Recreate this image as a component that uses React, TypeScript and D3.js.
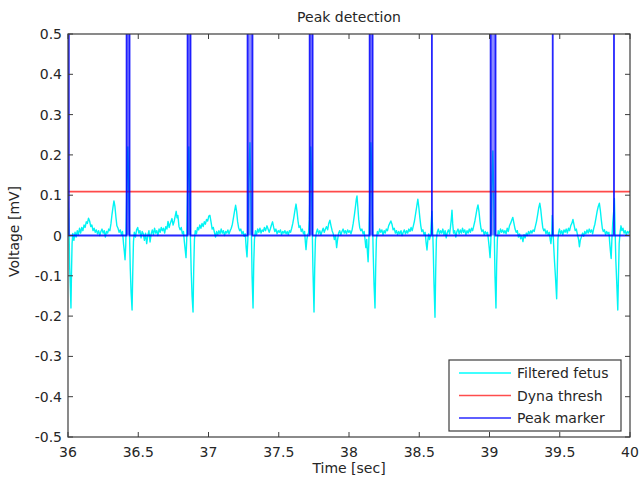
import React, { useEffect, useRef } from "react";
import * as d3 from "d3";

// filtered fetal ECG, [time (s), voltage (mV)]
const filteredFetus: [number, number][] = [
  [36.000, 0.085], [36.004, 0.06], [36.008, 0.0], [36.012, -0.08], [36.016, -0.12], [36.021, -0.18], [36.025, -0.09], [36.029, -0.02],
  [36.034, 0.005], [36.042, -0.012], [36.050, 0.008], [36.058, -0.004], [36.066, 0.012], [36.074, 0.002], [36.082, 0.018], [36.090, 0.006],
  [36.098, 0.02], [36.106, 0.012], [36.114, 0.026], [36.122, 0.02], [36.130, 0.034], [36.138, 0.03], [36.146, 0.043], [36.154, 0.036],
  [36.162, 0.022], [36.170, 0.026], [36.178, 0.012], [36.186, 0.018], [36.194, 0.008], [36.202, 0.014], [36.210, 0.004], [36.218, 0.012],
  [36.226, 0.0], [36.234, 0.01], [36.242, 0.016], [36.250, 0.006], [36.258, 0.012], [36.266, -0.004], [36.274, 0.01], [36.282, 0.006],
  [36.290, 0.016], [36.298, 0.012], [36.306, 0.03], [36.313, 0.052], [36.320, 0.07], [36.327, 0.086], [36.334, 0.072], [36.341, 0.046],
  [36.348, 0.024], [36.356, 0.018], [36.364, 0.008], [36.372, 0.014], [36.380, 0.002], [36.388, 0.01], [36.395, -0.02], [36.401, -0.04],
  [36.406, -0.06], [36.411, -0.025], [36.416, 0.06], [36.421, 0.16], [36.426, 0.22], [36.431, 0.14], [36.437, 0.02], [36.443, -0.08],
  [36.449, -0.14], [36.456, -0.185], [36.461, -0.09], [36.466, -0.015],
  [36.472, 0.008], [36.480, -0.004], [36.488, 0.014], [36.496, 0.02], [36.504, 0.006], [36.512, 0.012], [36.520, -0.006], [36.528, 0.01],
  [36.536, 0.004], [36.544, -0.012], [36.552, 0.006], [36.560, -0.02], [36.568, 0.0], [36.576, 0.012], [36.584, -0.016], [36.592, 0.004],
  [36.600, 0.014], [36.608, 0.002], [36.616, 0.018], [36.624, 0.006], [36.632, 0.012], [36.640, 0.0], [36.648, 0.016], [36.656, 0.008],
  [36.664, 0.02], [36.672, 0.012], [36.680, 0.018], [36.688, 0.006], [36.696, 0.022], [36.704, 0.016], [36.712, 0.035], [36.720, 0.02],
  [36.728, 0.03], [36.740, 0.042], [36.748, 0.026], [36.756, 0.036], [36.764, 0.05], [36.770, 0.06], [36.776, 0.044], [36.782, 0.05],
  [36.790, 0.022], [36.798, 0.014], [36.806, 0.02], [36.814, 0.004], [36.822, 0.01], [36.828, -0.015], [36.834, -0.035], [36.840, -0.055],
  [36.845, -0.01], [36.850, 0.08], [36.855, 0.18], [36.860, 0.22], [36.865, 0.12], [36.871, 0.0], [36.877, -0.09], [36.883, -0.15],
  [36.890, -0.19], [36.895, -0.08], [36.900, -0.01],
  [36.906, 0.012], [36.914, 0.004], [36.922, 0.02], [36.930, 0.014], [36.938, 0.026], [36.946, 0.018], [36.954, 0.03], [36.962, 0.022],
  [36.970, 0.034], [36.978, 0.028], [36.986, 0.04], [36.994, 0.036], [37.002, 0.048], [37.010, 0.05], [37.018, 0.034], [37.026, 0.016],
  [37.034, 0.02], [37.042, 0.008], [37.050, -0.004], [37.058, 0.01], [37.066, 0.002], [37.074, 0.012], [37.082, 0.004], [37.090, 0.016],
  [37.098, 0.006], [37.106, 0.012], [37.114, 0.0], [37.122, 0.01], [37.130, 0.006], [37.138, 0.014], [37.146, 0.004], [37.154, 0.012],
  [37.162, 0.018], [37.170, 0.028], [37.178, 0.045], [37.186, 0.062], [37.193, 0.075], [37.200, 0.06], [37.207, 0.035], [37.214, 0.02],
  [37.222, 0.012], [37.230, 0.016], [37.238, 0.004], [37.246, 0.01], [37.254, -0.002], [37.262, 0.004], [37.268, -0.03], [37.274, -0.053],
  [37.280, -0.01], [37.285, 0.09], [37.290, 0.18], [37.295, 0.23], [37.300, 0.14], [37.305, 0.02], [37.310, -0.1], [37.317, -0.18],
  [37.322, -0.07], [37.327, -0.01],
  [37.334, 0.012], [37.342, 0.002], [37.350, 0.016], [37.358, 0.008], [37.366, 0.018], [37.374, 0.006], [37.382, 0.014], [37.390, 0.01],
  [37.398, 0.02], [37.406, 0.012], [37.416, 0.024], [37.424, 0.016], [37.432, 0.008], [37.440, 0.016], [37.448, 0.026], [37.456, 0.034],
  [37.464, 0.02], [37.472, 0.01], [37.480, 0.016], [37.488, 0.004], [37.496, 0.012], [37.504, 0.008], [37.512, 0.014], [37.520, 0.002],
  [37.528, 0.01], [37.536, 0.006], [37.544, 0.012], [37.552, 0.004], [37.560, 0.01], [37.568, 0.002], [37.576, 0.012], [37.584, 0.008],
  [37.592, 0.018], [37.600, 0.03], [37.608, 0.046], [37.616, 0.064], [37.623, 0.078], [37.630, 0.06], [37.637, 0.036], [37.644, 0.02],
  [37.652, 0.024], [37.660, 0.01], [37.668, 0.016], [37.676, 0.004], [37.684, 0.01], [37.689, -0.015], [37.694, -0.035], [37.700, -0.01],
  [37.706, 0.002], [37.712, 0.006], [37.718, 0.04], [37.723, 0.13], [37.728, 0.22], [37.733, 0.15], [37.738, 0.03], [37.743, -0.08],
  [37.751, -0.19], [37.756, -0.08], [37.761, -0.01],
  [37.768, 0.008], [37.776, 0.016], [37.784, 0.004], [37.792, 0.012], [37.800, 0.002], [37.808, 0.01], [37.816, 0.018], [37.824, 0.008],
  [37.832, 0.016], [37.840, 0.022], [37.848, 0.014], [37.856, 0.03], [37.864, 0.038], [37.872, 0.024], [37.880, 0.012], [37.888, 0.004],
  [37.896, -0.01], [37.904, 0.0], [37.912, -0.03], [37.918, -0.012], [37.926, 0.006], [37.934, 0.012], [37.942, 0.002], [37.950, 0.01],
  [37.958, 0.016], [37.966, 0.006], [37.974, 0.012], [37.982, 0.004], [37.990, 0.014], [37.998, 0.008], [38.006, 0.012], [38.014, 0.004],
  [38.022, 0.014], [38.030, 0.03], [38.038, 0.05], [38.046, 0.072], [38.052, 0.09], [38.057, 0.098], [38.063, 0.07], [38.069, 0.04],
  [38.076, 0.02], [38.084, 0.012], [38.092, 0.016], [38.100, 0.004], [38.108, 0.01], [38.114, -0.01], [38.120, -0.03], [38.126, -0.01],
  [38.131, -0.04], [38.136, -0.065], [38.141, -0.02], [38.146, 0.06], [38.151, 0.16], [38.156, 0.23], [38.161, 0.17], [38.166, 0.06],
  [38.172, -0.04], [38.178, -0.12], [38.185, -0.18], [38.190, -0.08], [38.195, -0.01],
  [38.202, 0.01], [38.210, 0.004], [38.218, 0.016], [38.226, 0.008], [38.234, 0.014], [38.242, 0.002], [38.250, 0.012], [38.258, 0.006],
  [38.266, 0.016], [38.274, 0.012], [38.282, 0.024], [38.290, 0.03], [38.298, 0.036], [38.306, 0.028], [38.314, 0.014], [38.322, 0.018],
  [38.330, 0.006], [38.338, 0.012], [38.346, 0.002], [38.354, 0.01], [38.362, 0.004], [38.370, 0.012], [38.378, 0.0], [38.386, 0.008],
  [38.394, 0.014], [38.402, 0.004], [38.410, 0.012], [38.418, 0.006], [38.426, 0.016], [38.434, 0.01], [38.442, 0.02], [38.450, 0.012],
  [38.458, 0.024], [38.466, 0.036], [38.474, 0.054], [38.482, 0.072], [38.490, 0.09], [38.497, 0.07], [38.504, 0.045], [38.511, 0.024],
  [38.518, 0.01], [38.526, 0.014], [38.534, 0.002], [38.542, 0.008], [38.548, -0.015], [38.555, -0.036], [38.561, -0.012], [38.567, 0.004],
  [38.573, -0.01], [38.580, 0.0], [38.585, 0.03], [38.590, 0.06], [38.595, 0.02], [38.600, -0.04], [38.605, -0.12], [38.612, -0.203],
  [38.617, -0.09], [38.622, -0.01],
  [38.628, 0.008], [38.636, 0.016], [38.644, 0.004], [38.652, 0.012], [38.660, 0.006], [38.668, 0.016], [38.676, 0.002], [38.684, 0.012],
  [38.692, -0.006], [38.700, 0.008], [38.708, 0.014], [38.716, 0.004], [38.722, 0.02], [38.728, 0.04], [38.733, 0.063], [38.738, 0.03],
  [38.744, 0.006], [38.752, 0.012], [38.760, -0.004], [38.768, 0.01], [38.776, 0.016], [38.784, 0.004], [38.792, 0.014], [38.800, 0.006],
  [38.808, 0.018], [38.816, 0.008], [38.824, 0.014], [38.832, 0.002], [38.840, 0.012], [38.848, 0.006], [38.856, 0.016], [38.864, 0.008],
  [38.872, 0.018], [38.880, 0.012], [38.888, 0.024], [38.896, 0.036], [38.904, 0.052], [38.911, 0.066], [38.918, 0.076], [38.925, 0.06],
  [38.932, 0.036], [38.939, 0.018], [38.946, 0.01], [38.954, 0.014], [38.962, 0.002], [38.970, 0.01], [38.978, 0.004], [38.986, 0.008],
  [38.992, -0.01], [38.998, -0.03], [39.004, -0.055], [39.009, -0.02], [39.014, 0.06], [39.019, 0.15], [39.024, 0.21], [39.029, 0.12],
  [39.034, 0.01], [39.039, -0.1], [39.046, -0.18], [39.051, -0.07], [39.056, -0.01],
  [39.062, 0.012], [39.070, 0.004], [39.078, 0.016], [39.086, 0.008], [39.094, 0.014], [39.102, 0.006], [39.110, 0.012], [39.118, 0.004],
  [39.126, 0.018], [39.134, 0.01], [39.142, 0.024], [39.150, 0.03], [39.158, 0.038], [39.166, 0.045], [39.174, 0.03], [39.182, 0.016],
  [39.190, 0.008], [39.198, 0.012], [39.206, -0.004], [39.214, 0.004], [39.222, -0.008], [39.230, -0.002], [39.238, -0.015], [39.246, 0.002],
  [39.254, -0.006], [39.262, 0.006], [39.270, 0.0], [39.278, 0.01], [39.286, 0.004], [39.294, 0.012], [39.302, 0.006], [39.310, 0.014],
  [39.318, 0.01], [39.326, 0.022], [39.334, 0.034], [39.342, 0.05], [39.350, 0.068], [39.358, 0.08], [39.365, 0.064], [39.372, 0.04],
  [39.379, 0.02], [39.386, 0.012], [39.394, 0.016], [39.402, 0.004], [39.410, 0.012], [39.418, 0.002], [39.426, 0.008], [39.432, -0.01],
  [39.437, -0.02], [39.443, 0.0], [39.447, 0.05], [39.451, 0.02], [39.456, -0.02], [39.462, -0.06], [39.469, -0.1], [39.478, -0.157],
  [39.483, -0.08], [39.487, -0.01],
  [39.492, 0.008], [39.498, 0.016], [39.506, 0.004], [39.514, 0.012], [39.522, 0.002], [39.530, 0.014], [39.538, 0.008], [39.546, 0.016],
  [39.554, 0.006], [39.562, 0.018], [39.570, 0.012], [39.578, 0.024], [39.586, 0.03], [39.594, 0.04], [39.602, 0.026], [39.610, 0.012],
  [39.618, 0.016], [39.626, 0.002], [39.634, -0.01], [39.640, -0.028], [39.646, -0.012], [39.654, -0.004], [39.662, 0.006], [39.670, -0.002],
  [39.678, 0.01], [39.686, 0.004], [39.694, 0.014], [39.702, 0.006], [39.710, 0.016], [39.718, 0.008], [39.726, 0.014], [39.734, 0.004],
  [39.742, 0.018], [39.750, 0.028], [39.758, 0.044], [39.766, 0.06], [39.774, 0.072], [39.782, 0.08], [39.789, 0.062], [39.796, 0.038],
  [39.803, 0.018], [39.810, 0.01], [39.818, 0.014], [39.826, 0.002], [39.834, 0.01], [39.842, 0.004], [39.850, 0.008], [39.856, -0.02],
  [39.861, -0.04], [39.866, -0.057], [39.871, -0.01], [39.877, 0.03], [39.884, 0.06], [39.889, 0.092], [39.893, 0.03], [39.899, -0.06],
  [39.906, -0.12], [39.913, -0.185], [39.918, -0.1], [39.923, -0.02], [39.930, 0.01], [39.936, 0.024], [39.942, 0.012], [39.950, 0.018],
  [39.958, 0.006], [39.966, 0.012], [39.974, 0.002], [39.982, 0.01], [39.990, 0.006], [40.000, 0.012],
];

// dynamic threshold (flat over this window)
const threshTimes = [36, 40];
const threshValues = [0.109, 0.109];

// peak marker: onset / offset of each detected peak (s)
const peakOnsets = [36.006, 36.417, 36.851, 37.278, 37.720, 38.147, 38.590, 39.008, 39.450, 39.886];
const peakOffsets = [36.006, 36.438, 36.872, 37.313, 37.741, 38.168, 38.590, 39.043, 39.450, 39.886];
const peakLevel = 1;

const xTicks = [36, 36.5, 37, 37.5, 38, 38.5, 39, 39.5, 40];
const yTicks = [-0.5, -0.4, -0.3, -0.2, -0.1, 0, 0.1, 0.2, 0.3, 0.4, 0.5];
const legendLabels = ["Filtered fetus", "Dyna thresh", "Peak marker"];

const App = () => {
  const ref = useRef<SVGSVGElement>(null);

  useEffect(() => {
    const width = 639;
    const height = 480;
    const margin = { left: 68, right: 9, top: 34, bottom: 43 };
    const font = "'DejaVu Sans', sans-serif";
    const axisColor = "#3c3c3c";
    const textColor = "#262626";

    const svg = d3.select(ref.current);
    svg.selectAll("*").remove();

    const x = d3.scaleLinear().domain([36, 40]).range([margin.left, width - margin.right]);
    const y = d3.scaleLinear().domain([-0.5, 0.5]).range([height - margin.bottom, margin.top]);

    svg.append("rect").attr("width", width).attr("height", height).attr("fill", "white");

    svg
      .append("defs")
      .append("clipPath")
      .attr("id", "plot-clip")
      .append("rect")
      .attr("x", x(36))
      .attr("y", y(0.5))
      .attr("width", x(40) - x(36))
      .attr("height", y(-0.5) - y(0.5));

    const plot = svg.append("g").attr("clip-path", "url(#plot-clip)");
    const line = d3
      .line<[number, number]>()
      .x((d) => x(d[0]))
      .y((d) => y(d[1]));

    // filtered fetus
    plot
      .append("path")
      .datum(filteredFetus)
      .attr("d", line)
      .attr("fill", "none")
      .attr("stroke", "#00f4f4")
      .attr("stroke-width", 1.4)
      .attr("stroke-linejoin", "round");

    // dyna thresh
    plot
      .append("path")
      .datum(threshTimes.map((t, i) => [t, threshValues[i]] as [number, number]))
      .attr("d", line)
      .attr("fill", "none")
      .attr("stroke", "#ff2a2a")
      .attr("stroke-opacity", 0.85)
      .attr("stroke-width", 1.8);

    // peak marker: wide pulses get a translucent body
    plot
      .selectAll("rect.pulse")
      .data(peakOnsets.map((t, i) => [t, peakOffsets[i]]).filter((d) => d[1] > d[0]))
      .enter()
      .append("rect")
      .attr("class", "pulse")
      .attr("x", (d) => x(d[0]))
      .attr("width", (d) => x(d[1]) - x(d[0]))
      .attr("y", y(peakLevel))
      .attr("height", y(0) - y(peakLevel))
      .attr("fill", "#0000ff")
      .attr("fill-opacity", 0.45);

    const markerPts: [number, number][] = [[36, 0]];
    peakOnsets.forEach((t, i) => {
      markerPts.push([t, 0], [t, peakLevel], [peakOffsets[i], peakLevel], [peakOffsets[i], 0]);
    });
    markerPts.push([40, 0]);
    plot
      .append("path")
      .datum(markerPts)
      .attr("d", line)
      .attr("fill", "none")
      .attr("stroke", "#0000ff")
      .attr("stroke-opacity", 0.85)
      .attr("stroke-width", 1.8);

    // axes box
    const axes = svg.append("g");
    axes
      .append("rect")
      .attr("x", x(36))
      .attr("y", y(0.5))
      .attr("width", x(40) - x(36))
      .attr("height", y(-0.5) - y(0.5))
      .attr("fill", "none")
      .attr("stroke", axisColor)
      .attr("stroke-width", 1.2);

    const tickLen = 5;
    xTicks.forEach((t) => {
      axes.append("line").attr("x1", x(t)).attr("x2", x(t)).attr("y1", y(-0.5)).attr("y2", y(-0.5) - tickLen)
        .attr("stroke", axisColor);
      axes.append("line").attr("x1", x(t)).attr("x2", x(t)).attr("y1", y(0.5)).attr("y2", y(0.5) + tickLen)
        .attr("stroke", axisColor);
      axes.append("text").attr("x", x(t)).attr("y", y(-0.5) + 20).attr("text-anchor", "middle")
        .attr("font-family", font).attr("font-size", 14).attr("fill", textColor)
        .text(String(+t.toFixed(1)));
    });
    yTicks.forEach((v) => {
      axes.append("line").attr("x1", x(36)).attr("x2", x(36) + tickLen).attr("y1", y(v)).attr("y2", y(v))
        .attr("stroke", axisColor);
      axes.append("line").attr("x1", x(40)).attr("x2", x(40) - tickLen).attr("y1", y(v)).attr("y2", y(v))
        .attr("stroke", axisColor);
      axes.append("text").attr("x", x(36) - 6).attr("y", y(v) + 5).attr("text-anchor", "end")
        .attr("font-family", font).attr("font-size", 14).attr("fill", textColor)
        .text(String(+v.toFixed(1)));
    });

    // title and axis labels
    svg.append("text").attr("x", (x(36) + x(40)) / 2).attr("y", 22).attr("text-anchor", "middle")
      .attr("font-family", font).attr("font-size", 14).attr("fill", textColor).text("Peak detection");
    svg.append("text").attr("x", (x(36) + x(40)) / 2).attr("y", 473).attr("text-anchor", "middle")
      .attr("font-family", font).attr("font-size", 14).attr("fill", textColor).text("Time [sec]");
    svg.append("text").attr("transform", `translate(19, ${(y(0.5) + y(-0.5)) / 2 - 4}) rotate(-90)`)
      .attr("text-anchor", "middle").attr("font-family", font).attr("font-size", 14).attr("fill", textColor)
      .text("Voltage [mV]");

    // legend
    const legendColors = ["#00ffff", "#ff4d4d", "#2a2aff"];
    const legend = svg.append("g").attr("transform", "translate(449, 360)");
    legend.append("rect").attr("width", 172).attr("height", 71).attr("fill", "white")
      .attr("stroke", axisColor).attr("stroke-width", 1.2);
    legendLabels.forEach((label, i) => {
      const ly = 13 + i * 22.5;
      legend.append("line").attr("x1", 10).attr("x2", 62).attr("y1", ly).attr("y2", ly)
        .attr("stroke", legendColors[i]).attr("stroke-width", 1.5);
      legend.append("text").attr("x", 68).attr("y", ly + 5).attr("font-family", font)
        .attr("font-size", 14).attr("fill", textColor).text(label);
    });
  }, []);

  return (
    <svg
      ref={ref}
      width={639}
      height={480}
      style={{ position: "absolute", left: 0, top: 0 }}
    />
  );
};

export default App;
